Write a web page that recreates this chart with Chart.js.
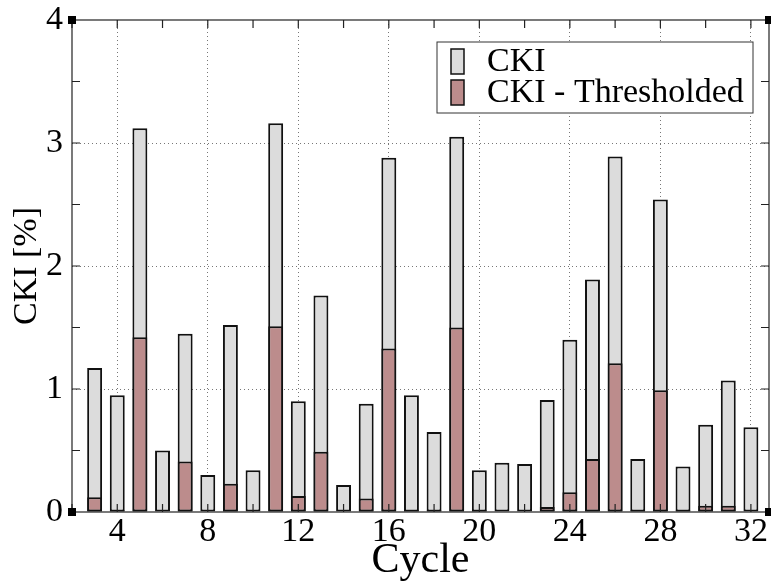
<!DOCTYPE html>
<html>
<head>
<meta charset="utf-8">
<script src="https://cdn.jsdelivr.net/npm/chart.js@4/dist/chart.umd.min.js"></script>
<style>
  html, body { margin: 0; padding: 0; background: #fff; }
</style>
</head>
<body>
<canvas id="cki_chart" width="771" height="581"></canvas>
<script>
"use strict";

const cycles = [3, 4, 5, 6, 7, 8, 9, 10, 11, 12, 13, 14, 15, 16, 17,
  18, 19, 20, 21, 22, 23, 24, 25, 26, 27, 28, 29, 30, 31, 32];
const ckiValues = [1.17, 0.95, 3.12, 0.50, 1.45, 0.30, 1.52, 0.34, 3.16, 0.90,
  1.76, 0.22, 0.88, 2.88, 0.95, 0.65, 3.05, 0.34, 0.40, 0.39,
  0.91, 1.40, 1.89, 2.89, 0.43, 2.54, 0.37, 0.71, 1.07, 0.69];
const thresholdedValues = [0.12, 0.015, 1.42, 0, 0.41, 0, 0.23, 0, 1.51, 0.13,
  0.49, 0, 0.11, 1.33, 0.015, 0.015, 1.50, 0.015, 0, 0,
  0.04, 0.16, 0.43, 1.21, 0.015, 0.99, 0.015, 0.05, 0.05, 0];
const xTickLabels = [4, 8, 12, 16, 20, 24, 28, 32];
const yTickLabels = [0, 1, 2, 3, 4];

Chart.defaults.font.family = "'Liberation Serif', 'Times New Roman', serif";
Chart.defaults.color = "#000";

// frame with inward ticks, like the gnuplot box
const framePlugin = {
  id: "frame",
  afterDatasetsDraw(chart) {
    const { ctx, chartArea: a, scales } = chart;
    const x = scales.x, y = scales.y;
    ctx.save();
    ctx.strokeStyle = "#222";
    ctx.lineWidth = 1.2;
    ctx.strokeRect(a.left, a.top, a.right - a.left, a.bottom - a.top);
    ctx.beginPath();
    for (let v = 2; v <= 32; v += 2) {
      const px = x.getPixelForValue(v);
      ctx.moveTo(px, a.bottom); ctx.lineTo(px, a.bottom - 8);
      ctx.moveTo(px, a.top); ctx.lineTo(px, a.top + 8);
    }
    for (let v = 0.5; v < 4; v += 0.5) {
      const py = y.getPixelForValue(v);
      ctx.moveTo(a.left, py); ctx.lineTo(a.left + 8, py);
      ctx.moveTo(a.right, py); ctx.lineTo(a.right - 8, py);
    }
    ctx.stroke();
    ctx.fillStyle = "#000";
    [[a.left, a.top], [a.left, a.bottom], [a.right, a.top], [a.right, a.bottom]].forEach(p => {
      ctx.fillRect(p[0] - 4, p[1] - 4, 8, 8);
    });
    ctx.restore();
  }
};

// legend box inside the plot, top right
const legendPlugin = {
  id: "boxLegend",
  afterDraw(chart) {
    const { ctx, chartArea: a } = chart;
    const w = 316, h = 71;
    const bx = a.right - 16 - w, by = a.top + 22;
    ctx.save();
    ctx.fillStyle = "#fff";
    ctx.fillRect(bx, by, w, h);
    ctx.strokeStyle = "#333";
    ctx.lineWidth = 1;
    ctx.strokeRect(bx, by, w, h);
    ctx.font = "34px 'Liberation Serif', serif";
    ctx.textBaseline = "middle";
    chart.data.datasets.forEach((ds, i) => {
      const cy = by + 19.5 + i * 31;
      ctx.fillStyle = ds.backgroundColor;
      ctx.fillRect(bx + 14, cy - 12.5, 13, 25);
      ctx.strokeStyle = "#111";
      ctx.lineWidth = 1.5;
      ctx.strokeRect(bx + 14, cy - 12.5, 13, 25);
      ctx.fillStyle = "#000";
      ctx.fillText(ds.label, bx + 50, cy + 1);
    });
    ctx.restore();
  }
};

const ctx1 = document.getElementById("cki_chart").getContext("2d");
const ckiChart = new Chart(ctx1, {
  type: "bar",
  data: {
    datasets: [
      {
        label: "CKI",
        data: cycles.map((c, i) => ({ x: c, y: ckiValues[i] })),
        backgroundColor: "#dcdcdc",
        borderColor: "#111",
        borderWidth: 2,
        borderSkipped: false,
        grouped: false,
        order: 2
      },
      {
        label: "CKI - Thresholded",
        data: cycles.map((c, i) => ({ x: c, y: thresholdedValues[i] })),
        backgroundColor: "#bc8c8c",
        borderColor: "#111",
        borderWidth: 2,
        borderSkipped: false,
        grouped: false,
        order: 1
      }
    ]
  },
  options: {
    responsive: false,
    animation: false,
    categoryPercentage: 1,
    barPercentage: 0.66,
    layout: { padding: { top: 20, right: 2, left: 0, bottom: 0 } },
    plugins: { legend: { display: false }, tooltip: { enabled: false } },
    scales: {
      x: {
        type: "linear",
        min: 2,
        max: 32.8,
        offset: false,
        afterBuildTicks: s => { s.ticks = xTickLabels.map(v => ({ value: v })); },
        afterFit: s => { s.height = 69; s.paddingLeft = 0; s.paddingRight = 0; },
        ticks: { font: { size: 34 }, padding: 0, maxRotation: 0, autoSkip: false },
        grid: { color: "#777", lineWidth: 1, drawTicks: false, offset: false },
        border: { display: false, dash: [1, 3] },
        title: { display: true, text: "Cycle", font: { size: 42 }, padding: { top: 0, bottom: -5 } }
      },
      y: {
        min: 0,
        max: 4,
        afterBuildTicks: s => { s.ticks = yTickLabels.map(v => ({ value: v })); },
        afterFit: s => { s.width = 72; s.paddingTop = 0; s.paddingBottom = 0; },
        ticks: { font: { size: 34 }, padding: 9 },
        grid: {
          color: c => (c.tick && (c.tick.value === 0 || c.tick.value === 4)) ? "rgba(0,0,0,0)" : "#777",
          lineWidth: 1,
          drawTicks: false
        },
        border: { display: false, dash: [1, 3] },
        title: { display: true, text: "CKI [%]", font: { size: 34 }, padding: { top: 7, bottom: 0 } }
      }
    }
  },
  plugins: [framePlugin, legendPlugin]
});
</script>
</body>
</html>
